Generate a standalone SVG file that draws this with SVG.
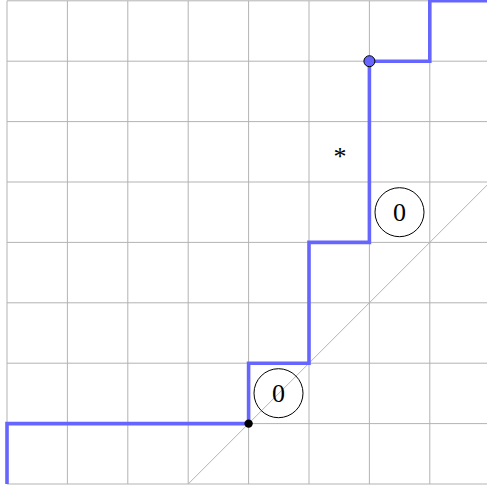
<svg xmlns="http://www.w3.org/2000/svg" width="487" height="488" viewBox="0 0 487 488">
<style>
.grid{stroke:#b3b3b3;stroke-width:1;fill:none}
.path{stroke:#6666ff;stroke-width:3.6;fill:none;stroke-linejoin:miter}
.lbl{font-family:"Liberation Serif",serif;font-size:26px;fill:#000;text-anchor:middle}
.circ{fill:none;stroke:#000;stroke-width:1}
</style>
<rect width="487" height="488" fill="#fff"/>
<g id="grid" class="grid">
<path d="M7,0.8V484M67.4,0.8V484M127.8,0.8V484M188.2,0.8V484M248.6,0.8V484M309,0.8V484M369.4,0.8V484M429.8,0.8V484"/>
<path d="M7,484H490M7,423.6H490M7,363.2H490M7,302.8H490M7,242.4H490M7,182H490M7,121.6H490M7,61.2H490M7,0.8H490"/>
<path d="M188.2,484L490,182.2"/>
</g>
<g id="connectors">
<path class="path" d="M7,484V423.6H248.6V363.2H309V242.4H369.4V61.2H429.8V0.8H490"/>
</g>
<g id="start-dot"><circle cx="248.6" cy="423.6" r="4.2" fill="#000"/></g>
<g id="end-dot"><circle cx="369.4" cy="61.2" r="5.5" fill="#6666ff" stroke="#000" stroke-width="1"/></g>
<g id="label-0a"><circle class="circ" cx="278.5" cy="393.2" r="24.5"/><text class="lbl" x="278.5" y="401.8">0</text></g>
<g id="label-0b"><circle class="circ" cx="399.5" cy="212.2" r="24.5"/><text class="lbl" x="399.5" y="220.8">0</text></g>
<g id="star"><text class="lbl" x="340" y="165">*</text></g>
</svg>
